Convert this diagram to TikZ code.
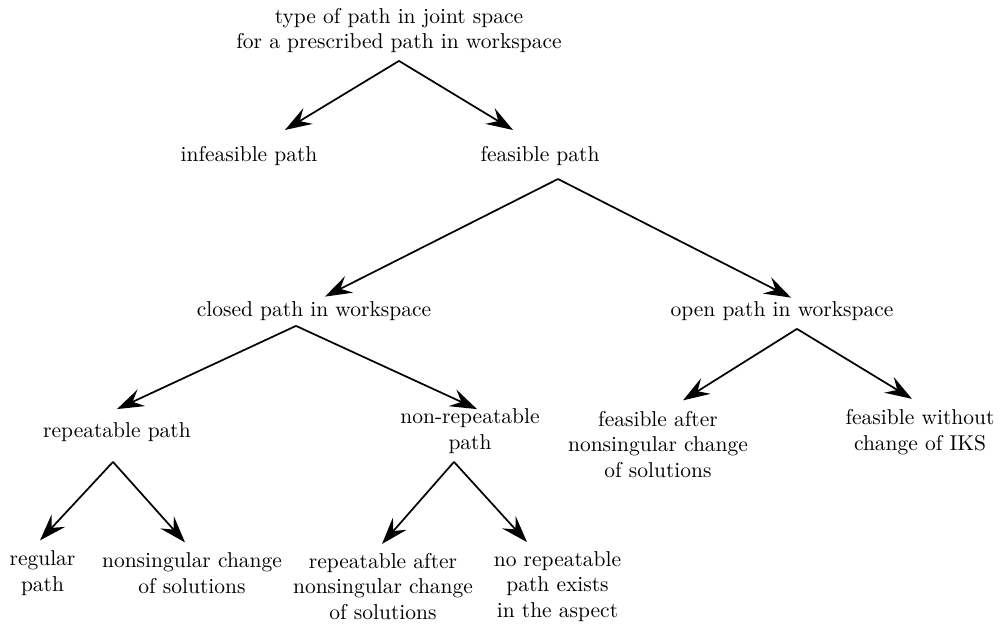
\documentclass[tikz,border=0pt]{standalone}
\usepackage{amsmath,amssymb}
\usetikzlibrary{arrows.meta,positioning}
\tikzstyle{case} = [align=center,inner sep=0pt]
\tikzstyle{line} = [draw, -{Stealth[length=12.5pt,width=8.5pt,inset=4.5pt]}]

\begin{document}
\begin{tikzpicture}[thick,x=0.01635cm,y=-0.01635cm]
\useasboundingbox (0,0) rectangle (1000,625);
            \node[case] (type) at (399,30.5) {type of path in joint space\\for a prescribed path in workspace};
            \node[case] (infeas) at (249,156) {infeasible path};
            \node[case] (feas) at (540,156) {feasible path};
            \path[line] ([shift={(0,7)}]type.south) -- ([shift={(36,-15.5)}]infeas.north);
            \path[line] ([shift={(0,7)}]type.south) -- ([shift={(-27,-15.5)}]feas.north);
            \node[case] (closed) at (314,311) {closed path in workspace};
            \node[case] (open) at (782,311) {open path in workspace};
            \path[line] ([shift={(18,12.5)}]feas.south) -- ([shift={(11,-4)}]closed.north);
            \path[line] ([shift={(18,12.5)}]feas.south) -- ([shift={(9,-3)}]open.north);
            \node[case] (rep) at (117,432) {repeatable path};
            \node[case] (nonrep) at (470,431) {non-repeatable\\path};
            \path[line] ([shift={(-18,4.5)}]closed.south) -- ([shift={(0,-12.5)}]rep.north);
            \path[line] ([shift={(-18,4.5)}]closed.south) -- ([shift={(7,1.4)}]nonrep.north);
            \node[case] (feasafter) at (658,444.5) {feasible after\\nonsingular change\\of solutions};
            \node[case] (feaswithout) at (920,432) {feasible without\\change of IKS};
            \path[line] ([shift={(15,7.5)}]open.south) -- ([shift={(25,-9.8)}]feasafter.north);
            \path[line] ([shift={(15,7.5)}]open.south) -- ([shift={(-8,-9.6)}]feaswithout.north);
            \node[case] (regular) at (42.5,573.5) {regular\\path};
            \node[case] (nonsing) at (192,573.5) {nonsingular change\\of solutions};
            \path[line] ([shift={(-4,19.5)}]rep.south) -- ([shift={(-2.5,-9.8)}]regular.north);
            \path[line] ([shift={(-4,19.5)}]rep.south) -- ([shift={(-7,-9.8)}]nonsing.north);
            \node[case] (repafter) at (383,586.5) {repeatable after\\nonsingular change\\of solutions};
            \node[case] (norep) at (557.5,586.5) {no repeatable\\path exists\\in the aspect};
            \path[line] ([shift={(-16,7.6)}]nonrep.south) -- ([shift={(-1,-8.2)}]repafter.north);
            \path[line] ([shift={(-16,7.6)}]nonrep.south) -- ([shift={(-30.5,-8.2)}]norep.north);
\end{tikzpicture}
\end{document}
